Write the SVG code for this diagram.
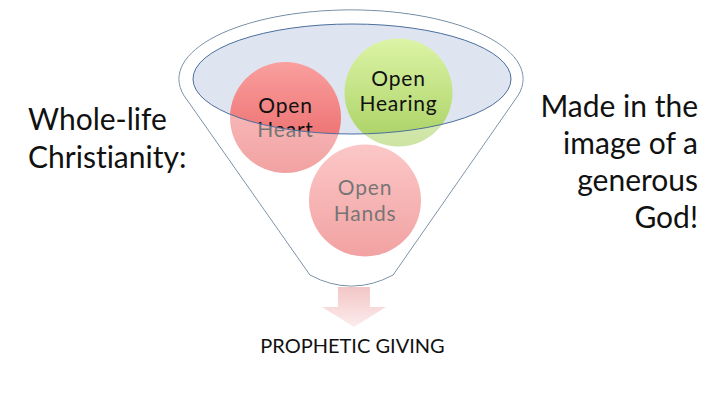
<svg xmlns="http://www.w3.org/2000/svg" width="720" height="405" viewBox="0 0 720 405">
  <defs>
    <linearGradient id="gRed" x1="0" y1="0" x2="0" y2="1">
      <stop offset="0" stop-color="#fa9f9f"/>
      <stop offset="1" stop-color="#e85f5f"/>
    </linearGradient>
    <linearGradient id="gGreen" x1="0" y1="0" x2="0" y2="1">
      <stop offset="0" stop-color="#dcf4a6"/>
      <stop offset="1" stop-color="#a9d062"/>
    </linearGradient>
    <linearGradient id="gArrow" x1="0" y1="0" x2="0" y2="1">
      <stop offset="0" stop-color="#f3c6c6"/>
      <stop offset="1" stop-color="#fcecec"/>
    </linearGradient>
    <style>
      text { font-variant-ligatures: none; }
      .edge { fill: none; stroke: #5b7794; stroke-width: 1; }
      .rim { stroke: #4a6f9c; stroke-width: 1; }
      .lbl { font-family: Lato, "Liberation Sans", sans-serif; font-size: 21px; fill: #111; text-anchor: middle; letter-spacing: 0.8px; }
      .side { font-family: Lato, "Liberation Sans", sans-serif; font-size: 30px; fill: #111; }
      .out { font-family: Lato, "Liberation Sans", sans-serif; font-size: 20px; fill: #111; text-anchor: middle; }
    </style>
  </defs>
  <rect width="720" height="405" fill="#ffffff"/>

  <g id="funnel">
    <path id="funnel-outline" d="M 183.7 95 A 172 69 0 1 1 518.3 95 L 393 275 Q 351.5 297 310 275 Z" fill="#ffffff" class="edge"/>
    <ellipse id="funnel-mouth" cx="352" cy="79" rx="159" ry="55" fill="#dfe5f0" stroke="none"/>
  </g>

  <g id="node-heart">
    <circle cx="285.5" cy="117.5" r="55.5" fill="url(#gRed)"/>
    <text class="lbl" x="285.5" y="113">Open</text>
    <text class="lbl" x="285.5" y="137">Heart</text>
  </g>

  <g id="node-hearing">
    <circle cx="398.5" cy="92.5" r="54" fill="url(#gGreen)"/>
    <text class="lbl" x="398.5" y="86">Open</text>
    <text class="lbl" x="398.5" y="111">Hearing</text>
  </g>

  <g id="node-hands">
    <circle cx="365" cy="200.5" r="56" fill="url(#gRed)"/>
    <text class="lbl" x="365" y="195">Open</text>
    <text class="lbl" x="365" y="221">Hands</text>
  </g>

  <g id="funnel-overlay">
    <path d="M 183.7 95 A 172 69 0 1 1 518.3 95 L 393 275 Q 351.5 297 310 275 Z M 193 79 A 159 55 0 1 0 511 79 A 159 55 0 1 0 193 79 Z" fill="#ffffff" fill-opacity="0.42" fill-rule="evenodd"/>
    <ellipse cx="352" cy="79" rx="159" ry="55" fill="none" class="rim"/>
  </g>

  <g id="connectors">
    <path id="arrow-down" d="M 338 287 L 370 287 L 370 307 L 386 307 L 354 327 L 322 307 L 338 307 Z" fill="url(#gArrow)"/>
  </g>

  <g id="result">
    <text class="out" x="352.5" y="353">PROPHETIC GIVING</text>
  </g>

  <g id="left-label">
    <text class="side" x="28" y="130">Whole-life</text>
    <text class="side" x="28" y="168">Christianity:</text>
  </g>

  <g id="right-label">
    <text class="side" x="698" y="117" text-anchor="end">Made in the</text>
    <text class="side" x="698" y="154" text-anchor="end">image of a</text>
    <text class="side" x="698" y="191" text-anchor="end">generous</text>
    <text class="side" x="698" y="228" text-anchor="end">God!</text>
  </g>
</svg>
